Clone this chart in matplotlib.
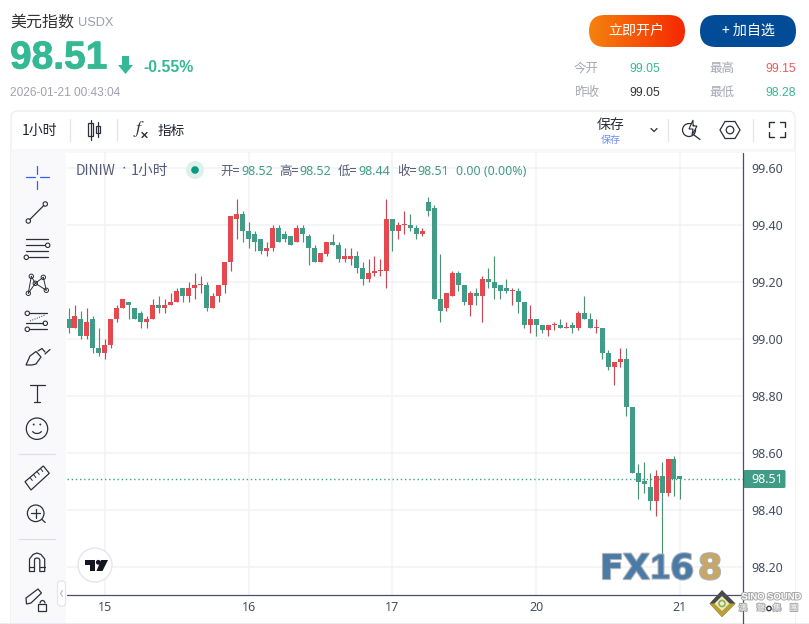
import numpy as np
import matplotlib
matplotlib.use("Agg")
import matplotlib.pyplot as plt
from matplotlib.patches import FancyBboxPatch, Circle, Polygon, Arc, Rectangle
import matplotlib.patheffects as pe

plt.rcParams['font.family'] = ['Noto Sans CJK SC', 'DejaVu Sans']

highs = [99.11,99.12,99.10,99.11,99.08,99.04,99.00,99.07,99.12,99.14,99.13,99.11,99.10,99.08,99.14,99.15,99.14,99.16,99.18,99.18,99.20,99.23,99.22,99.20,99.16,99.19,99.27,99.43,99.49,
         99.45,99.41,99.38,99.35,99.34,99.40,99.40,99.38,99.36,99.40,99.40,99.37,99.33,99.30,99.34,99.37,99.34,99.32,99.32,99.31,99.27,99.28,99.29,99.28,99.49,99.42,99.41,
         99.45,99.44,99.40,99.39,99.50,99.47,99.30,99.16,99.24,99.24,99.19,99.17,99.18,99.22,99.25,99.29,99.19,99.21,99.18,99.18,99.13,99.12,99.07,99.05,99.05,99.06,
         99.07,99.06,99.06,99.10,99.15,99.09,99.07,99.04,98.96,98.92,98.97,98.97,98.76,98.56,98.57,98.53,98.54,98.57,98.58,98.59,98.52]
lows = [99.02,99.04,99.00,99.00,98.95,98.94,98.93,98.97,99.06,99.11,99.07,99.07,99.04,99.04,99.07,99.09,99.09,99.12,99.13,99.13,99.13,99.14,99.16,99.10,99.11,99.13,99.16,99.24,99.35,
        99.34,99.32,99.31,99.30,99.29,99.31,99.34,99.34,99.33,99.34,99.34,99.26,99.27,99.27,99.29,99.33,99.27,99.27,99.26,99.23,99.19,99.20,99.22,99.22,99.18,99.31,99.35,
        99.37,99.38,99.35,99.36,99.43,99.14,99.06,99.10,99.15,99.17,99.12,99.08,99.12,99.06,99.18,99.14,99.14,99.16,99.12,99.09,99.04,99.02,99.01,99.02,99.01,99.03,
        99.04,99.04,99.02,99.03,99.07,99.04,99.02,98.93,98.89,98.84,98.90,98.73,98.53,98.44,98.46,98.40,98.38,98.24,98.45,98.45,98.44]
opens = [99.07,99.04,99.07,99.01,99.07,98.97,98.95,98.98,99.07,99.11,99.13,99.11,99.09,99.06,99.07,99.12,99.11,99.12,99.13,99.18,99.15,99.18,99.19,99.19,99.11,99.15,99.19,99.27,99.42,
         99.44,99.38,99.37,99.35,99.31,99.32,99.39,99.37,99.36,99.34,99.39,99.36,99.32,99.27,99.30,99.34,99.33,99.28,99.28,99.29,99.25,99.21,99.23,99.24,99.24,99.42,99.38,
         99.40,99.40,99.39,99.37,99.48,99.46,99.14,99.11,99.15,99.23,99.19,99.12,99.16,99.15,99.21,99.20,99.19,99.18,99.17,99.17,99.13,99.05,99.07,99.05,99.03,99.05,
         99.05,99.04,99.05,99.04,99.09,99.07,99.04,99.04,98.95,98.90,98.92,98.93,98.76,98.53,98.50,98.48,98.43,98.52,98.46,98.58,98.52]
closes = [99.04,99.08,99.01,99.06,98.97,98.95,98.98,99.07,99.11,99.14,99.12,99.07,99.06,99.07,99.12,99.11,99.12,99.13,99.17,99.15,99.18,99.19,99.19,99.11,99.15,99.19,99.27,99.43,99.44,
          99.38,99.35,99.34,99.31,99.32,99.39,99.34,99.35,99.33,99.39,99.37,99.32,99.27,99.30,99.34,99.33,99.28,99.29,99.29,99.25,99.21,99.23,99.24,99.24,99.42,99.38,99.40,
          99.40,99.39,99.37,99.38,99.45,99.14,99.10,99.16,99.23,99.19,99.13,99.16,99.15,99.21,99.20,99.18,99.17,99.17,99.17,99.13,99.05,99.07,99.05,99.03,99.05,99.05,
          99.04,99.04,99.04,99.09,99.07,99.04,99.04,98.95,98.90,98.92,98.93,98.76,98.53,98.50,98.49,98.43,98.52,98.46,98.58,98.51,98.51]

price_ticks = [99.60, 99.40, 99.20, 99.00, 98.80, 98.60, 98.40, 98.20]
time_tick_pos = [6, 30, 54, 78, 102]
time_tick_labels = ['15', '16', '17', '20', '21']
last_price = 98.51

C_UP = '#e5484f'
C_DN = '#419c87'
W_UP = '#c04a58'
W_DN = '#4c9272'
GRID = '#f1f2f5'
AXIS = '#46506e'
ICON = '#2b2f3a'
W, H = 809, 624

fig = plt.figure(figsize=(W / 100, H / 100), dpi=100, facecolor='white')

# page layer in pixel coordinates
bg = fig.add_axes([0, 0, 1, 1], zorder=0)
bg.set_xlim(0, W); bg.set_ylim(H, 0); bg.axis('off')
bg.add_patch(FancyBboxPatch((11, 111), 784, 530, boxstyle='round,pad=0,rounding_size=7',
                            fc='white', ec='#eceef2', lw=1))
bg.add_patch(Rectangle((11, 149), 784, 3.5, fc='#f8f8fa', ec='none'))
bg.add_patch(Rectangle((11, 152), 55.5, 472, fc='#f9f9fb', ec='none'))
bg.add_patch(Rectangle((743, 152), 52, 472, fc='white', ec='none'))
bg.plot([0, W], [623.5, 623.5], color='#e6e8ef', lw=1.2)

# chart axes
x0, x1 = 67, 743
y0, y1 = 152, 594.5
ppx = 5.99
ppy = 285.0
ax = fig.add_axes([x0 / W, 1 - y1 / H, (x1 - x0) / W, (y1 - y0) / H], zorder=1)
ax.patch.set_alpha(0)
ax.set_xlim((x0 - 69) / ppx, (x1 - 69) / ppx)
ax.set_ylim(99.40 - (y1 - 225) / ppy, 99.40 + (225 - y0) / ppy)
for s in ax.spines.values():
    s.set_visible(False)
ax.set_xticks([]); ax.set_yticks([])
for p in price_ticks:
    ax.axhline(p, color=GRID, lw=1.1, zorder=1)
for t in time_tick_pos:
    ax.axvline(t, color=GRID, lw=1.1, zorder=1)

idx = np.arange(len(opens))
o, h, l, c = map(np.array, (opens, highs, lows, closes))
up = c >= o
ax.vlines(idx[up], l[up], h[up], color=W_UP, lw=0.85, zorder=2)
ax.vlines(idx[~up], l[~up], h[~up], color=W_DN, lw=0.85, zorder=2)
bot = np.minimum(o, c)
ht = np.maximum(np.abs(c - o), 0.0035)
ax.bar(idx[up], ht[up], 5 / ppx, bot[up], color=C_UP, zorder=3, lw=0)
ax.bar(idx[~up], ht[~up], 5 / ppx, bot[~up], color=C_DN, zorder=3, lw=0)
ax.axhline(last_price, color='#3f9f86', lw=1.0, ls=(0, (1, 2)), zorder=4)

# overlay in pixel coordinates
ov = fig.add_axes([0, 0, 1, 1], zorder=2)
ov.set_xlim(0, W); ov.set_ylim(H, 0); ov.axis('off'); ov.patch.set_alpha(0)

def T(x, y, s, size, color='#333', ha='left', va='center', **kw):
    return ov.text(x, y, s, fontsize=size, color=color, ha=ha, va=va, **kw)

def L(xs, ys, color=ICON, lw=0.9, **kw):
    ov.plot(xs, ys, color=color, lw=lw, solid_capstyle='round', **kw)

def ring(x, y, r=2.2, color=ICON, lw=0.8):
    ov.add_patch(Circle((x, y), r, fc='none', ec=color, lw=lw))

# axes frame
L([x0, x1], [594.5, 594.5], color=AXIS, lw=0.9)
L([743.3, 743.3], [153, 624], color=AXIS, lw=0.9)

# price and time labels
NS = ['Noto Sans', 'DejaVu Sans']
for p in price_ticks:
    T(751, 226.3 + (99.40 - p) * ppy, f'{p:.2f}', 9.0, '#454c63', family=NS)
for t, s in zip(time_tick_pos, time_tick_labels):
    T(69 + t * ppx, 607.5, s, 9.0, '#454c63', ha='center', family=NS)
ov.add_patch(FancyBboxPatch((743.5, 470), 42, 18, boxstyle='round,pad=0,rounding_size=1.5', fc='#419c87', ec='none'))
T(751, 479.3, f'{last_price:.2f}', 9.0, 'white', fontweight='bold', family=NS)

# header
T(10, 22, '美元指数', 11.5, '#333333')
T(78, 23.5, 'USDX', 9.2, '#9b9dab', family='Liberation Sans')
T(10, 58.5, '98.51', 28, '#35b995', fontweight='bold', family='Liberation Sans',
  path_effects=[pe.withStroke(linewidth=0.6, foreground='#35b995')])
ov.add_patch(Polygon([(122, 56), (129, 56), (129, 65), (133, 65), (125.5, 74), (118, 65), (122, 65)], fc='#35b995', ec='none'))
T(143, 68, '-0.55%', 11.4, '#35b995', fontweight='bold', family='Liberation Sans')
T(10, 93.5, '2026-01-21 00:43:04', 8.6, '#a0a1ad', family='Liberation Sans')

# buttons
grad = np.linspace(0, 1, 256).reshape(1, -1)
cmap = matplotlib.colors.LinearSegmentedColormap.from_list('b', ['#f5820f', '#f52800'])
im = ov.imshow(grad, extent=(589, 685, 47, 15), cmap=cmap, aspect='auto', zorder=1)
pill = FancyBboxPatch((589, 15), 96, 32, boxstyle='round,pad=0,rounding_size=16', fc='none', ec='none', transform=ov.transData)
ov.add_patch(pill)
im.set_clip_path(pill)
ov.set_xlim(0, W); ov.set_ylim(H, 0)
ov.add_patch(FancyBboxPatch((700, 15), 96, 32, boxstyle='round,pad=0,rounding_size=16', fc='#024b96', ec='none'))
T(636.5, 30.5, '立即开户', 10.1, 'white', ha='center', zorder=3)
T(748, 30.5, '+ 加自选', 10.1, 'white', ha='center', zorder=3)

# stats
LS = 'Liberation Sans'
T(574, 68.5, '今开', 9, '#a5a7b3')
T(629, 69.5, '99.05', 8.8, '#35b995', family=LS)
T(709, 68.5, '最高', 9, '#a5a7b3')
T(765, 69.5, '99.15', 8.8, '#f0595a', family=LS)
T(574, 92.5, '昨收', 9, '#a5a7b3')
T(629, 93.5, '99.05', 8.8, '#333333', family=LS)
T(709, 92.5, '最低', 9, '#a5a7b3')
T(765, 93.5, '98.28', 8.8, '#35b995', family=LS)

# top toolbar
T(22, 131, '1小时', 10, '#1f2330')
for xd in (70.5, 117.5, 668.5, 753.5):
    L([xd, xd], [119, 141], color='#e3e5ec', lw=0.9)
ov.add_patch(Rectangle((88.5, 123), 4.5, 13, fc='none', ec=ICON, lw=0.9))
L([90.7, 90.7], [120, 139.5]); L([98, 98], [122, 137])
ov.add_patch(Rectangle((96, 126), 4.5, 7, fc='none', ec=ICON, lw=0.9))
T(133, 129, '$f$', 13, '#2b2f3a', math_fontfamily='stix')
L([142, 147], [132.5, 137.5], lw=1.0); L([147, 142], [132.5, 137.5], lw=1.0)
T(158, 131, '指标', 9.8, '#1f2330')
T(611, 125.5, '保存', 10, '#2b2f3a', ha='center')
T(611, 139.5, '保存', 7.2, '#6f8cff', ha='center')
L([651, 654, 657], [128.5, 131.5, 128.5])
ring(689, 130, 6.5, lw=0.9); L([694, 700], [135, 139.5])
ov.add_patch(Polygon([(693, 120), (689, 129), (693, 129), (692, 135), (697, 126), (693, 126)], fc='white', ec=ICON, lw=0.8))
ov.add_patch(Polygon([(720, 130), (725, 121.5), (735, 121.5), (740, 130), (735, 138.5), (725, 138.5)], fc='none', ec=ICON, lw=0.9))
ring(730, 130, 3.8, lw=0.9)
for (a, b, dx, dy) in ((769, 122, 1, 1), (785, 122, -1, 1), (769, 137, 1, -1), (785, 137, -1, -1)):
    L([a + 5 * dx, a, a], [b, b, b + 5 * dy], lw=1.0)

# legend
T(76, 171, 'DINIW', 10, '#565c78')
ov.add_patch(Circle((124.3, 167.7), 0.9, fc='#565c78', ec='none'))
T(131, 171, '1小时', 10.5, '#565c78')
ov.add_patch(Circle((195, 170), 9, fc='#dff0ec', ec='none'))
ov.add_patch(Circle((195, 170), 3.8, fc='#089981', ec='none'))
for xa, lab, xb, val in ((220, '开=', 241, '98.52'), (279, '高=', 299, '98.52'), (338, '低=', 358, '98.44'), (397, '收=', 417, '98.51')):
    T(xa, 171.5, lab, 9, '#555b75')
    T(xb, 171.5, val, 9, C_DN, family=NS)
T(456, 171.5, '0.00 (0.00%)', 9, C_DN, family=NS)

# side toolbar icons
B = '#2962ff'
L([26, 35], [177.3, 177.3], color=B); L([40, 49], [177.3, 177.3], color=B)
L([37.5, 37.5], [166, 174], color=B); L([37.5, 37.5], [181, 189], color=B)
L([29.8, 43.8], [219.5, 205.5]); ring(28.3, 221); ring(45.3, 204)
for yy in (239.3, 245.3, 251.3):
    L([26, 45.5 if yy == 245.3 else 48], [yy, yy])
L([29, 48], [257.3, 257.3]); ring(47.7, 245.3); ring(26.3, 257.3)
pts = [(31.3, 276.3), (43.3, 277.3), (28.3, 293.3), (35.3, 283.3), (46.3, 290.3)]
for i, j in ((0, 2), (0, 3), (3, 2), (3, 1), (1, 4), (3, 4)):
    L([pts[i][0], pts[j][0]], [pts[i][1], pts[j][1]], lw=0.7)
for p in pts:
    ov.add_patch(Circle(p, 2.2, fc='#f9f9fb', ec=ICON, lw=0.7))
L([29.5, 47], [313.3, 313.3]); L([26, 42.8], [323.3, 323.3]); L([47.6, 47.6], [323.3, 323.3])
L([29.5, 47], [329.3, 329.3]); L([30, 45], [321, 315], ls=(0, (1, 1.5)), lw=0.7)
ring(27.3, 313.3); ring(45.3, 323.3); ring(27.3, 329.3)
ov.add_patch(Polygon([(26, 365), (30, 356), (36, 351.5), (41, 357), (36, 364), (32, 365)], fc='none', ec=ICON, lw=0.9))
L([38, 42, 45], [351, 348.5, 352]); L([45, 50], [354, 349.5])
L([30, 44.7], [384.7, 384.7]); L([37.3, 37.3], [384.7, 401.5]); L([34.3, 40.3], [401.5, 401.5])
ring(37, 428.7, 10.7, lw=0.9); ring(33.7, 424.5, 0.4); ring(40.3, 424.5, 0.4)
ov.add_patch(Arc((37, 429.5), 10, 8, theta1=20, theta2=160, ec=ICON, lw=0.9))
L([19, 55], [453.5, 453.5], color='#dde0ea')
ov.add_patch(Polygon([(25, 481.7), (43.3, 466), (49.3, 473.3), (31, 490)], fc='none', ec=ICON, lw=0.9))
for k, (a, b) in enumerate(((30, 477.5), (33.5, 474.5), (37, 471.5), (40.5, 468.5))):
    L([a, a + 2.3], [b, b + 3], lw=0.7)
ring(35.7, 513.3, 8.3, lw=0.9); L([42, 45.2], [519.5, 522.5])
L([31.5, 40], [513.3, 513.3]); L([35.7, 35.7], [509, 517.5])
L([19, 55], [538.5, 538.5], color='#dde0ea')
L([29.5, 29.5, 33, 37, 41, 44.7, 44.7, 39.8, 39.8, 39, 37, 35, 34.5, 34.5, 29.5],
  [571.5, 559, 554.5, 553, 554.5, 559, 571.5, 571.5, 560, 558.5, 558, 558.5, 560, 571.5, 571.5], lw=0.9)
L([29.5, 34.5], [567, 567], lw=0.9); L([39.8, 44.7], [567, 567], lw=0.9)
ov.add_patch(Polygon([(26, 598), (38, 589), (41.5, 593), (31, 603), (26.5, 604)], fc='none', ec=ICON, lw=0.9))
ov.add_patch(Rectangle((38.5, 604), 8, 6.5, fc='#f9f9fb', ec=ICON, lw=0.9))
ov.add_patch(Arc((42.5, 603.5), 5, 6, theta1=180, theta2=360, ec=ICON, lw=0.9))
ov.add_patch(FancyBboxPatch((57.5, 581), 8, 25, boxstyle='round,pad=0,rounding_size=3', fc='white', ec='#e3e5ec', lw=0.9))
L([62.5, 60.5, 62.5], [590.5, 593.5, 596.5], color='#b5b8c2', lw=0.8)

# TradingView badge
ov.add_patch(Circle((95, 565), 17, fc='white', ec='#e3e5ef', lw=1))
ov.add_patch(Polygon([(85, 560), (95.5, 560), (95.5, 571), (90, 571), (90, 565), (85, 565)], fc='#131722', ec='none'))
ov.add_patch(Circle((98.3, 562.3), 2.4, fc='#131722', ec='none'))
ov.add_patch(Polygon([(101, 560), (108, 560), (102.5, 571), (96.5, 571)], fc='#131722', ec='none'))

# FX168 mark
for xt, ch, col, fam, sw in ((600, 'F', '#4a7ba6', 'DejaVu Sans', 1.6), (623, 'X', '#4a7ba6', 'DejaVu Sans', 1.6),
                             (650.5, '1', '#4a7ba6', 'Liberation Sans', 1.6), (670, '6', '#4a7ba6', 'DejaVu Sans', 1.6),
                             (698, '8', '#c9a765', 'DejaVu Sans', 1.6)):
    ov.text(xt, 569, ch, fontsize=25, color=col, fontweight='bold', family=fam, ha='left', va='center',
            path_effects=[pe.withStroke(linewidth=sw, foreground='#a9adb5')], alpha=0.95)

# Sino Sound mark
ov.add_patch(Polygon([(722, 590), (735.5, 603.5), (722, 617), (709.5, 603.5)], fc='#4a4a42', ec='none'))
ov.add_patch(Polygon([(709.5, 603.5), (735.5, 603.5), (722, 617)], fc='#b8a032', ec='none'))
ov.add_patch(Polygon([(722, 596), (729.5, 603.5), (722, 611), (714.5, 603.5)], fc='#efe6c4', ec='none'))
ov.add_patch(Circle((722, 603.5), 3, fc='#e8f0d8', ec='#8db54a', lw=1.2))
stk = [pe.withStroke(linewidth=1.4, foreground='#a8a8a8')]
T(741.5, 597, 'SINO SOUND', 6.8, 'white', fontweight='bold', family='Liberation Sans', path_effects=stk)
for xc, ch in ((743, '澳'), (761, '聲'), (777, '集'), (794, '團')):
    T(xc, 608, ch, 6, 'white', ha='center', family='Noto Sans CJK TC', path_effects=stk)
ring(769, 608.5, 2.2, color='#33384a', lw=1.0)

fig.savefig('out.png', dpi=100)
